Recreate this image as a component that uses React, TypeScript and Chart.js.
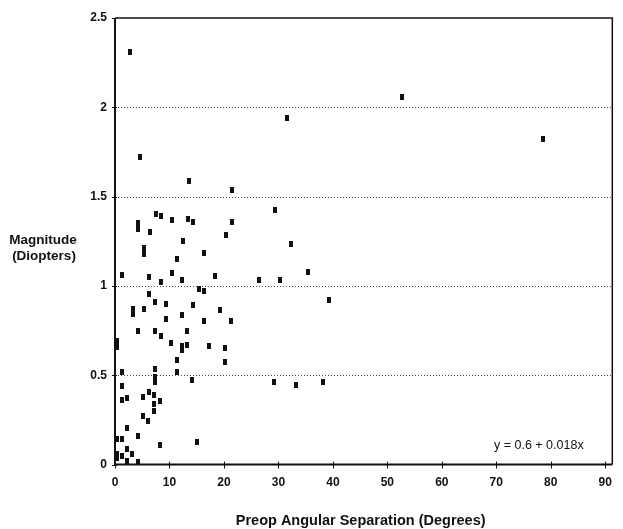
import React, { useEffect, useRef } from "react";
import { Chart, registerables } from "chart.js";

Chart.register(...registerables);

// Preop angular separation (degrees)
const separationDeg = [
  2.7, 4.5, 31.6, 52.6, 78.5, 13.5, 21.5, 29.4, 7.45, 8.4,
  10.4, 13.4, 14.4, 21.5, 4.3, 4.3, 6.4, 20.4, 32.4, 12.4,
  5.3, 5.3, 16.4, 11.4, 1.3, 6.3, 10.4, 8.4, 12.3, 18.4,
  26.4, 30.3, 35.4, 39.3, 15.4, 16.4, 6.3, 7.4, 9.4, 14.4,
  19.3, 3.3, 3.3, 5.3, 9.4, 12.3, 16.4, 21.3, 4.3, 7.3,
  8.4, 13.2, 0.3, 0.3, 10.3, 12.3, 12.3, 13.2, 17.3, 20.2,
  11.3, 20.2, 1.2, 7.3, 11.3, 7.3, 7.3, 14.2, 29.2, 33.2,
  38.2, 1.2, 6.2, 5.2, 7.1, 1.2, 2.2, 8.2, 7.1, 7.1,
  5.2, 6.1, 2.2, 4.2, 0.3, 1.2, 15.0, 8.2, 2.2, 3.1,
  0.3, 0.3, 1.2, 2.2, 4.2,
];

// Magnitude (diopters)
const magnitudeD = [
  2.31, 1.72, 1.94, 2.06, 1.825, 1.59, 1.535, 1.425, 1.4, 1.39,
  1.37, 1.375, 1.355, 1.355, 1.35, 1.32, 1.3, 1.285, 1.235, 1.25,
  1.21, 1.18, 1.185, 1.15, 1.06, 1.05, 1.07, 1.02, 1.035, 1.055,
  1.035, 1.035, 1.08, 0.92, 0.98, 0.97, 0.955, 0.91, 0.9, 0.895,
  0.865, 0.87, 0.845, 0.87, 0.815, 0.835, 0.805, 0.805, 0.75, 0.75,
  0.717, 0.75, 0.69, 0.66, 0.68, 0.665, 0.64, 0.67, 0.665, 0.655,
  0.587, 0.575, 0.52, 0.535, 0.52, 0.488, 0.46, 0.475, 0.464, 0.445,
  0.462, 0.437, 0.408, 0.38, 0.39, 0.36, 0.37, 0.357, 0.34, 0.3,
  0.274, 0.242, 0.203, 0.16, 0.143, 0.143, 0.128, 0.11, 0.088, 0.06,
  0.06, 0.035, 0.05, 0.018, 0.013,
];

const xTicks = [0, 10, 20, 30, 40, 50, 60, 70, 80, 90];
const yTicks = [0, 0.5, 1, 1.5, 2, 2.5];
const yTickLabels = ["0", "0.5", "1", "1.5", "2", "2.5"];
const gridValues = [0.5, 1, 1.5, 2];
const yTitleLines = ["Magnitude", "(Diopters)"];
const xTitle = "Preop Angular Separation (Degrees)";
const equation = "y = 0.6 + 0.018x";

const FONT = "'Liberation Sans', Arial, Helvetica, sans-serif";

export default function App() {
  const ref = useRef<HTMLCanvasElement>(null);

  useEffect(() => {
    if (!ref.current) return;
    const pt = document.createElement("canvas");
    pt.width = 4;
    pt.height = 6;
    const pc = pt.getContext("2d")!;
    pc.fillStyle = "#111";
    pc.fillRect(0, 0, 4, 6);

    const framePlugin = {
      id: "frame",
      beforeDatasetsDraw(chart: any) {
        const { ctx, chartArea: a, scales } = chart;
        const xs = scales.x;
        const ys = scales.y;
        ctx.save();
        ctx.strokeStyle = "#555";
        ctx.lineWidth = 1;
        ctx.setLineDash([1, 2]);
        for (const v of gridValues) {
          const py = Math.round(ys.getPixelForValue(v)) + 0.5;
          ctx.beginPath();
          ctx.moveTo(a.left, py);
          ctx.lineTo(a.right, py);
          ctx.stroke();
        }
        ctx.setLineDash([]);
        ctx.strokeStyle = "#111";
        ctx.lineWidth = 1.5;
        ctx.beginPath();
        ctx.moveTo(a.left, a.top);
        ctx.lineTo(a.right, a.top);
        ctx.lineTo(a.right, a.bottom);
        ctx.stroke();
        ctx.lineWidth = 2;
        ctx.beginPath();
        ctx.moveTo(a.left, a.top);
        ctx.lineTo(a.left, a.bottom);
        ctx.lineTo(a.right, a.bottom);
        ctx.stroke();
        ctx.lineWidth = 1;
        for (const v of xTicks) {
          const px = Math.round(xs.getPixelForValue(v)) + 0.5;
          ctx.beginPath();
          ctx.moveTo(px, a.bottom - 3);
          ctx.lineTo(px, a.bottom + 4);
          ctx.stroke();
        }
        for (const v of yTicks) {
          const py = Math.round(ys.getPixelForValue(v)) + 0.5;
          ctx.beginPath();
          ctx.moveTo(a.left - 3, py);
          ctx.lineTo(a.left + 2, py);
          ctx.stroke();
        }
        ctx.restore();
      },
      afterDraw(chart: any) {
        const { ctx, chartArea: a } = chart;
        ctx.save();
        ctx.fillStyle = "#111";
        ctx.textBaseline = "middle";
        ctx.textAlign = "center";
        ctx.font = `bold 13.5px ${FONT}`;
        ctx.fillText(yTitleLines[0], 43, 240);
        ctx.fillText(yTitleLines[1], 44, 256);
        ctx.font = `bold 14.5px ${FONT}`;
        ctx.fillText(xTitle, (a.left + a.right) / 2 - 3, 521);
        ctx.textAlign = "left";
        ctx.font = `12.5px ${FONT}`;
        ctx.fillText(equation, 494, 446);
        ctx.restore();
      },
    };

    const chart = new Chart(ref.current, {
      type: "scatter",
      data: {
        datasets: [
          {
            data: separationDeg.map((x, i) => ({ x, y: magnitudeD[i] })),
            pointStyle: pt as any,
            pointRadius: 3,
            pointHoverRadius: 3,
            backgroundColor: "#111",
            borderWidth: 0,
            clip: false as any,
          },
        ],
      },
      options: {
        responsive: false,
        animation: false,
        events: [],
        layout: { padding: { top: 18, right: 7, left: 0, bottom: 0 } },
        plugins: {
          legend: { display: false },
          tooltip: { enabled: false },
        },
        scales: {
          x: {
            type: "linear",
            min: 0,
            max: 91.3,
            afterBuildTicks: (s: any) => {
              s.ticks = xTicks.map((v) => ({ value: v }));
            },
            afterFit: (s: any) => {
              s.height = 64.5;
            },
            grid: { display: false, drawTicks: false },
            border: { display: false },
            ticks: {
              font: { family: FONT, size: 12, weight: "bold" },
              color: "#111",
              padding: 11,
              maxRotation: 0,
              autoSkip: false,
              callback: (v: any) => String(v),
            },
          },
          y: {
            type: "linear",
            min: 0,
            max: 2.5,
            afterBuildTicks: (s: any) => {
              s.ticks = yTicks.map((v) => ({ value: v }));
            },
            afterFit: (s: any) => {
              s.width = 115;
            },
            grid: { display: false, drawTicks: false },
            border: { display: false },
            ticks: {
              font: { family: FONT, size: 12, weight: "bold" },
              color: "#111",
              padding: 8,
              autoSkip: false,
              callback: (v: any) => {
                const i = yTicks.indexOf(Number(v));
                return i >= 0 ? yTickLabels[i] : String(v);
              },
            },
          },
        },
      },
      plugins: [framePlugin],
    });
    return () => chart.destroy();
  }, []);

  return (
    <canvas
      ref={ref}
      width={623}
      height={529}
      style={{ position: "absolute", left: 0, top: 0, background: "#fff" }}
    />
  );
}
